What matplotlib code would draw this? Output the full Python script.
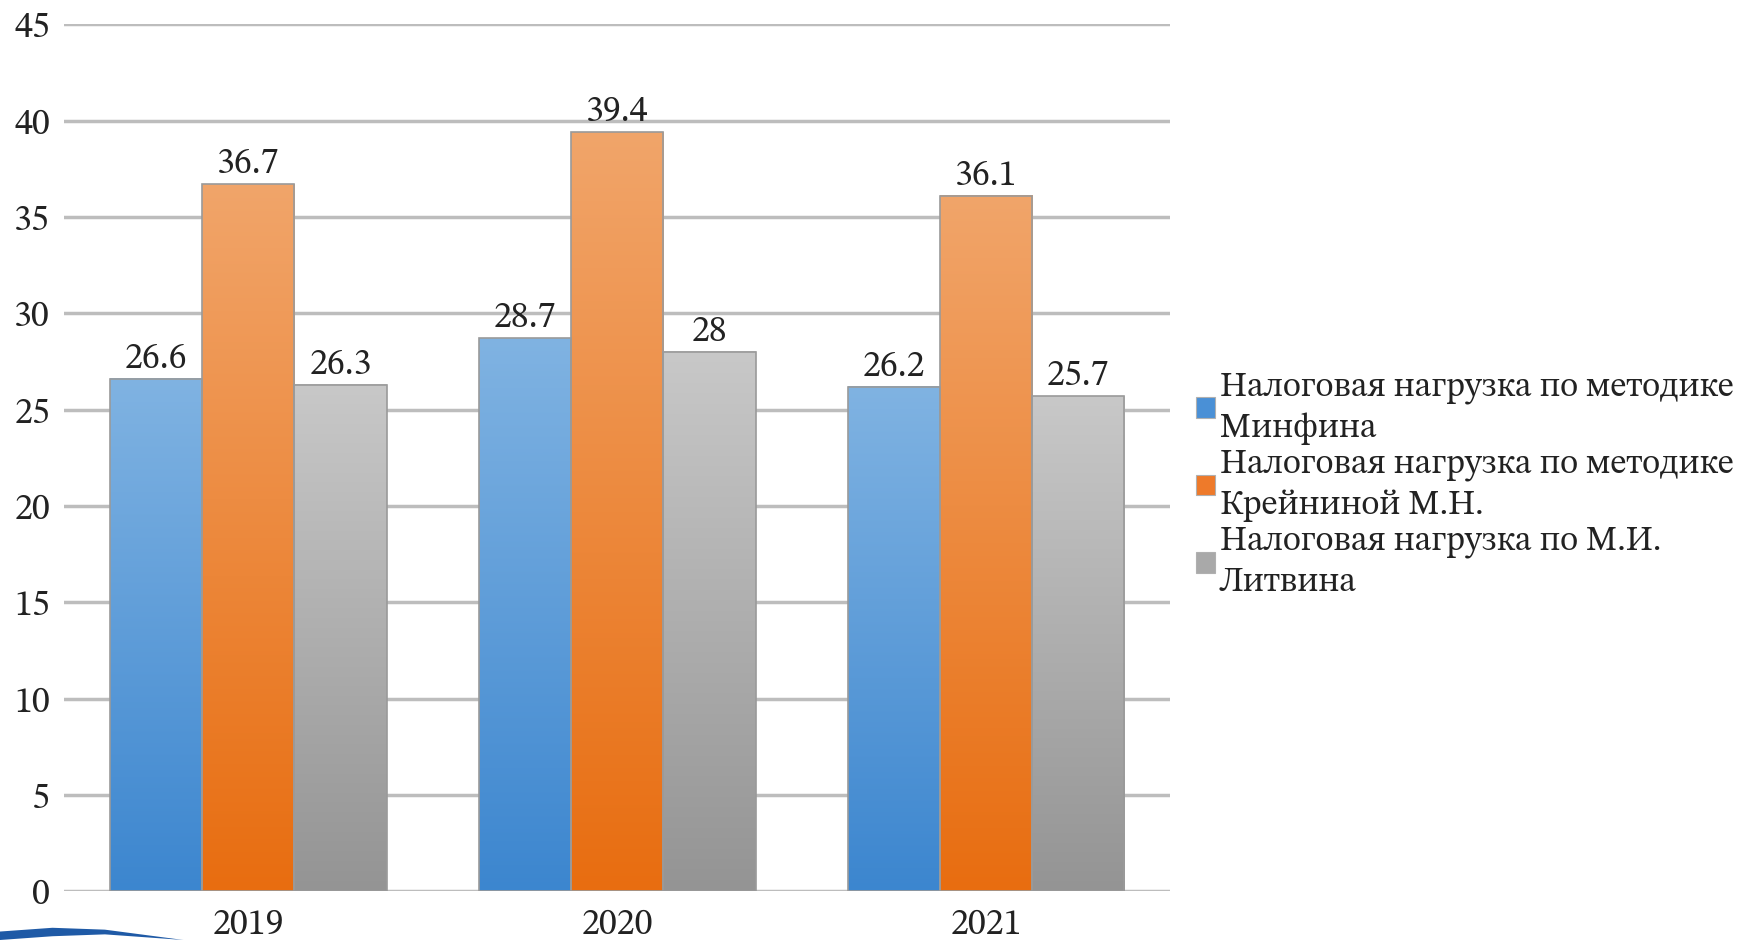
import numpy as np
import matplotlib
matplotlib.use("Agg")
import matplotlib.pyplot as plt
from matplotlib import font_manager
from matplotlib.colors import LinearSegmentedColormap
from matplotlib.patches import Patch, Polygon

installed = set(f.name for f in font_manager.fontManager.ttflist)
serif_choices = [n for n in ["Tinos", "STIX Two Text", "STIXGeneral", "Times New Roman",
                             "PT Serif", "Noto Serif"] if n in installed]
plt.rcParams["font.family"] = serif_choices + ["DejaVu Serif"]

years = ["2019", "2020", "2021"]
series_names = [
    "Налоговая нагрузка по методике\nМинфина",
    "Налоговая нагрузка по методике\nКрейниной М.Н.",
    "Налоговая нагрузка по М.И.\nЛитвина",
]
minfin = [26.6, 28.7, 26.2]
kreinina = [36.7, 39.4, 36.1]
litvin = [26.3, 28.0, 25.7]
y_ticks = [0, 5, 10, 15, 20, 25, 30, 35, 40, 45]

# gradient colours: (top, bottom)
grads = [("#80b3e2", "#3c86cf"), ("#f1a56a", "#e86d10"), ("#c8c8c8", "#949494")]
legend_colors = ["#4a90d6", "#ee7a2a", "#a9a9a9"]

fig = plt.figure(figsize=(17.48, 9.40), dpi=100)
ax = fig.add_axes([0.0366, 0.052, 0.633, 0.922])

x = np.arange(len(years))
width = 0.25
fs = 26

for i, vals in enumerate([minfin, kreinina, litvin]):
    pos = x + (i - 1) * width
    bars = ax.bar(pos, vals, width, color="none", edgecolor="#9a9a9a",
                  linewidth=1.2, zorder=4)
    cmap = LinearSegmentedColormap.from_list("g%d" % i, [grads[i][1], grads[i][0]])
    for b, v in zip(bars, vals):
        grad = np.linspace(0, 1, 256).reshape(-1, 1)
        ax.imshow(grad, cmap=cmap, origin="lower", aspect="auto",
                  extent=[b.get_x(), b.get_x() + b.get_width(), 0, v],
                  zorder=3)
        ax.text(b.get_x() + b.get_width() / 2, v + 0.15, "%g" % v,
                ha="center", va="bottom", fontsize=fs, color="#222222", zorder=5)

ax.set_xlim(-0.5, 2.5)
ax.set_ylim(0, 45)
ax.set_yticks(y_ticks)
ax.set_xticks(x)
ax.set_xticklabels(years)
ax.tick_params(axis="both", length=0, labelsize=fs, colors="#222222")
ax.tick_params(axis="y", pad=10)
ax.tick_params(axis="x", pad=12)
ax.grid(axis="y", color="#bdbdbd", linewidth=2.5, zorder=0)
ax.set_axisbelow(True)
for s in ax.spines.values():
    s.set_visible(False)

handles = [Patch(facecolor=c, edgecolor="#b0b0b0", linewidth=0.8) for c in legend_colors]
leg = fig.legend(handles, series_names, loc="center left", bbox_to_anchor=(0.684, 0.484),
                 frameon=False, fontsize=25, handlelength=0.55, handleheight=0.55,
                 handletextpad=0.15, labelspacing=0.1, borderpad=0, borderaxespad=0)
for t in leg.get_texts():
    t.set_linespacing(1.35)
    t.set_color("#222222")

# thin decorative swoosh at bottom-left
fig.patches.append(Polygon([[0.0, 0.0], [0.0, 0.009], [0.03, 0.013], [0.06, 0.011],
                            [0.105, 0.0], [0.06, 0.006], [0.03, 0.004]],
                           closed=True, transform=fig.transFigure,
                           facecolor="#1f5aa6", edgecolor="none"))

fig.savefig("out.png", dpi=100)
